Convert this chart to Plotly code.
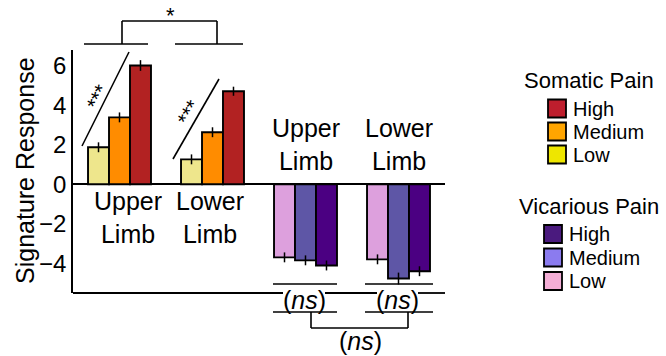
import plotly.graph_objects as go

# ---------------- data ----------------
groups = ["Somatic Upper Limb", "Somatic Lower Limb", "Vicarious Upper Limb", "Vicarious Lower Limb"]
group_labels = ["Upper<br>Limb", "Lower<br>Limb", "Upper<br>Limb", "Lower<br>Limb"]
levels = ["Low", "Medium", "High"]

somatic_groups = groups[:2]
somatic_low = [1.87, 1.26]
somatic_medium = [3.38, 2.63]
somatic_high = [6.0, 4.7]
somatic_low_err = [0.25, 0.25]
somatic_medium_err = [0.25, 0.25]
somatic_high_err = [0.27, 0.23]

vicarious_groups = groups[2:]
vicarious_low = [-3.69, -3.79]
vicarious_medium = [-3.84, -4.76]
vicarious_high = [-4.10, -4.39]
vicarious_low_err = [0.25, 0.25]
vicarious_medium_err = [0.25, 0.3]
vicarious_high_err = [0.25, 0.25]

y_ticks = [-4, -2, 0, 2, 4, 6]

# ---------------- styles ----------------
W, H = 666, 356
FONT = "Liberation Sans, Arial, Helvetica, sans-serif"
bar_colors_s = {"Low": "#EEE68C", "Medium": "#FF8C00", "High": "#B22222"}
bar_colors_v = {"Low": "#DDA0DD", "Medium": "#5E56A6", "High": "#4B0082"}
leg_colors_s = {"High": "#BE1E2D", "Medium": "#FFA500", "Low": "#EEE600"}
leg_colors_v = {"High": "#4A1A7E", "Medium": "#8B7BEF", "Low": "#F4AED6"}


def px(x, y):
    return x / W, 1 - y / H


fig = go.Figure()

s_vals = {"Low": (somatic_low, somatic_low_err), "Medium": (somatic_medium, somatic_medium_err),
          "High": (somatic_high, somatic_high_err)}
v_vals = {"Low": (vicarious_low, vicarious_low_err), "Medium": (vicarious_medium, vicarious_medium_err),
          "High": (vicarious_high, vicarious_high_err)}

for lvl in levels:
    vals, err = s_vals[lvl]
    fig.add_trace(go.Bar(
        x=somatic_groups, y=vals, name="Somatic " + lvl, offsetgroup=lvl,
        marker=dict(color=bar_colors_s[lvl], line=dict(color="black", width=1.9)),
        error_y=dict(type="data", array=err, color="black", thickness=1.5, width=0),
        showlegend=False,
    ))
for lvl in levels:
    vals, err = v_vals[lvl]
    fig.add_trace(go.Bar(
        x=vicarious_groups, y=vals, name="Vicarious " + lvl, offsetgroup=lvl,
        marker=dict(color=bar_colors_v[lvl], line=dict(color="black", width=1.9)),
        error_y=dict(type="data", array=err, color="black", thickness=1.5, width=0),
        showlegend=False,
    ))

x0p, x1p = 73, 445
ytop, ybot = 50, 293
zero_y = 184.3
scale = 19.8
yr = [(zero_y - ybot) / scale, (zero_y - ytop) / scale]

shapes = []
annotations = []


def line(xa, ya, xb, yb, w=1.6):
    (pa, qa), (pb, qb) = px(xa, ya), px(xb, yb)
    shapes.append(dict(type="line", xref="paper", yref="paper", x0=pa, y0=qa, x1=pb, y1=qb,
                       line=dict(color="black", width=w)))


def text(t, x, y, size, angle=0, xanchor="center", yanchor="middle"):
    p, q = px(x, y)
    annotations.append(dict(text=t, x=p, y=q, xref="paper", yref="paper", showarrow=False,
                            xanchor=xanchor, yanchor=yanchor, textangle=angle,
                            font=dict(family=FONT, size=size, color="black")))


# bottom axis line (broken around the (ns) labels)
line(73, 293, 283, 293, 1.8)
line(325, 293, 377, 293, 1.8)
line(418, 293, 445, 293, 1.8)

# top bracket (*)
line(84, 44, 148, 44)
line(175, 44, 243, 44)
line(122, 44, 122, 21)
line(217, 44, 217, 21)
line(122, 21, 217, 21)
text("*", 170, 15, 22)

# diagonal trend lines with ***
line(82, 146, 129, 52)
line(173, 159, 219, 79)
text("***", 97, 97, 21, angle=-63)
text("***", 189, 113, 21, angle=-60)

# ns brackets
for a, b in [(273, 337), (365, 433)]:
    line(a, 284, b, 284)
    line(a, 312, b, 312)
line(311, 312, 311, 328)
line(408, 312, 408, 328)
line(311, 328, 408, 328)
text("(<i>ns</i>)", 304, 300, 25)
text("(<i>ns</i>)", 397, 300, 25)
text("(<i>ns</i>)", 360, 341, 25)

# group labels
label_shift = [8, -3, 0, 0]
for i, g in enumerate(groups):
    yc = 217 if i < 2 else 144
    annotations.append(dict(text=group_labels[i], x=g, xref="x", y=1 - yc / H, yref="paper",
                            showarrow=False, xanchor="center", yanchor="middle",
                            xshift=label_shift[i],
                            font=dict(family=FONT, size=25, color="black")))

# y title
text("Signature Response", 25, 171, 25, angle=-90)

# legend (manual)
text("Somatic Pain", 589, 80, 22)
for i, lvl in enumerate(["High", "Medium", "Low"]):
    yc = 108.5 + i * 23
    a, b = px(548, yc - 9)
    c, d = px(566, yc + 9)
    shapes.append(dict(type="rect", xref="paper", yref="paper", x0=a, y0=b, x1=c, y1=d,
                       fillcolor=leg_colors_s[lvl], line=dict(color="black", width=1.8)))
    text(lvl, 571, yc, 20, xanchor="left")

text("Vicarious Pain", 589, 206, 22)
for i, lvl in enumerate(["High", "Medium", "Low"]):
    yc = 234 + i * 23.5
    a, b = px(544, yc - 9)
    c, d = px(562, yc + 9)
    shapes.append(dict(type="rect", xref="paper", yref="paper", x0=a, y0=b, x1=c, y1=d,
                       fillcolor=leg_colors_v[lvl], line=dict(color="black", width=1.8)))
    text(lvl, 567, yc, 20, xanchor="left")

fig.update_layout(
    width=W, height=H,
    margin=dict(l=0, r=0, t=0, b=0),
    paper_bgcolor="white", plot_bgcolor="white",
    barmode="group", bargap=0.323, bargroupgap=0,
    font=dict(family=FONT, color="black"),
    xaxis=dict(domain=[x0p / W, x1p / W], range=[-0.5, 3.5], showticklabels=False,
               showgrid=False, zeroline=False, showline=False, ticks="",
               categoryorder="array", categoryarray=groups),
    yaxis=dict(domain=[1 - ybot / H, 1 - ytop / H], range=yr, tickvals=y_ticks,
               showgrid=False, showline=True, linecolor="black", linewidth=1.8,
               zeroline=True, zerolinecolor="black", zerolinewidth=1.8, ticks="",
               tickfont=dict(family=FONT, size=24, color="black")),
    shapes=shapes, annotations=annotations,
)

fig.write_html("out.html")
